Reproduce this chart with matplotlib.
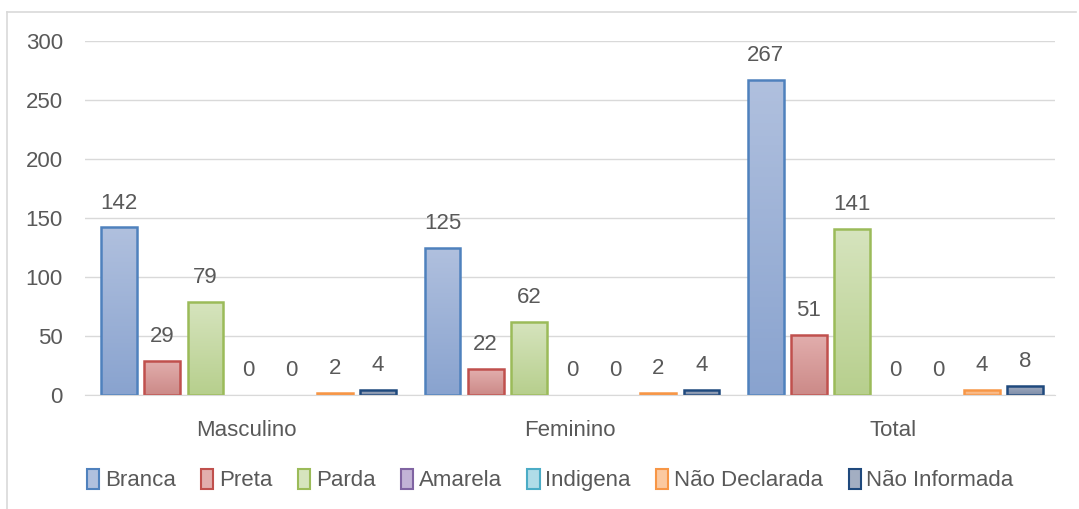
import numpy as np
import matplotlib.pyplot as plt
from matplotlib.colors import LinearSegmentedColormap
from matplotlib.patches import Patch
from matplotlib.lines import Line2D

plt.rcParams['font.family'] = ['Liberation Sans Narrow', 'Liberation Sans', 'DejaVu Sans']

groups = ['Masculino', 'Feminino', 'Total']
series = ['Branca', 'Preta', 'Parda', 'Amarela', 'Indigena', 'Não Declarada', 'Não Informada']
values = {
    'Branca': [142, 125, 267],
    'Preta': [29, 22, 51],
    'Parda': [79, 62, 141],
    'Amarela': [0, 0, 0],
    'Indigena': [0, 0, 0],
    'Não Declarada': [2, 2, 4],
    'Não Informada': [4, 4, 8],
}
# edge colour, gradient top, gradient bottom
styles = {
    'Branca': ('#4F81BD', '#B0C0DE', '#89A3CF'),
    'Preta': ('#C0504D', '#E2AEAD', '#CC8A88'),
    'Parda': ('#9BBB59', '#D6E4BE', '#B7CF8D'),
    'Amarela': ('#8064A2', '#C2B3D6', '#A592BF'),
    'Indigena': ('#4BACC6', '#B0DCE8', '#8CCAD9'),
    'Não Declarada': ('#F79646', '#FBC9A0', '#F8AE74'),
    'Não Informada': ('#1F497D', '#A3AEC2', '#7E8DA8'),
}
text_col = '#595959'
fs = 16

fig = plt.figure(figsize=(10.79, 5.09), dpi=100)
ax = fig.add_axes([0.0788, 0.224, 0.899, 0.6954])

x = np.arange(len(groups))
step = 0.1335
width = 0.111
for k, name in enumerate(series):
    edge, top, bot = styles[name]
    cmap = LinearSegmentedColormap.from_list(name, [bot, top])
    vals = values[name]
    bars = ax.bar(x + (k - 3) * step + 0.006, vals, width, facecolor='none',
                  edgecolor=[edge if v > 0 else 'none' for v in vals], linewidth=1.8, zorder=3)
    for b, v in zip(bars, vals):
        if v > 0:
            x0, y0 = b.get_x(), b.get_y()
            im = ax.imshow(np.linspace(0, 1, 100).reshape(-1, 1), cmap=cmap, origin='lower',
                           extent=(x0, x0 + b.get_width(), y0, y0 + b.get_height()),
                           aspect='auto', zorder=2)
            im.set_clip_path(b)
        ax.annotate(str(v), (b.get_x() + b.get_width() / 2, v), xytext=(0, 10),
                    textcoords='offset points', ha='center', va='bottom',
                    fontsize=fs, color=text_col)

ax.set_xlim(-0.5, 2.5)
ax.set_ylim(0, 300)
ax.set_yticks(range(0, 301, 50))
ax.set_xticks(x)
ax.set_xticklabels(groups)
ax.grid(axis='y', color='#D9D9D9', linewidth=1, zorder=0)
ax.set_axisbelow(True)
for s in ['top', 'right', 'left']:
    ax.spines[s].set_visible(False)
ax.spines['bottom'].set_color('#D9D9D9')
ax.spines['bottom'].set_zorder(4)
ax.tick_params(axis='both', length=0, labelsize=fs, colors=text_col)
ax.tick_params(axis='x', pad=18)
ax.tick_params(axis='y', pad=16)

handles = [Patch(facecolor=styles[n][1], edgecolor=styles[n][0], linewidth=1.5) for n in series]
fig.legend(handles, series, loc='center', bbox_to_anchor=(0.51, 0.057), ncol=7, frameon=False,
           fontsize=fs, labelcolor=text_col, handlelength=0.55, handleheight=1.0,
           handletextpad=0.25, columnspacing=1.15)

# outer chart frame (left and top edges visible)
fig.add_artist(Line2D([0.0065, 0.0065], [0.0, 0.976], color='#D9D9D9', lw=1.2))
fig.add_artist(Line2D([0.0065, 0.997], [0.976, 0.976], color='#D9D9D9', lw=1.2))

fig.savefig('out.png', dpi=100)
